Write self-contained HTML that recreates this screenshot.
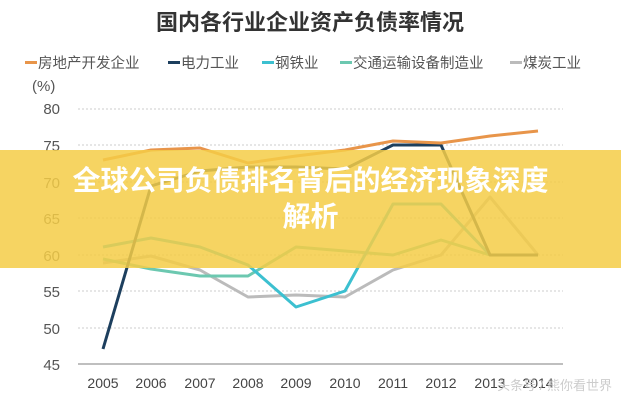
<!DOCTYPE html>
<html><head><meta charset="utf-8"><style>
body{margin:0;width:621px;height:400px;overflow:hidden;background:#fff;font-family:"Liberation Sans","Noto Sans CJK SC",sans-serif;}
</style></head><body>
<svg width="621" height="400" viewBox="0 0 621 400" style="position:absolute;left:0;top:0">
<text x="310" y="30" text-anchor="middle" font-size="22" font-weight="bold" fill="#333" font-family="Liberation Sans,Noto Sans CJK SC,sans-serif">国内各行业企业资产负债率情况</text>
<g font-size="14.5" fill="#555" font-family="Liberation Sans,Noto Sans CJK SC,sans-serif">
<rect x="25" y="61" width="12" height="3" fill="#e8954a"/><text x="38" y="68">房地产开发企业</text>
<rect x="168" y="61" width="12" height="3" fill="#1d3f5e"/><text x="181" y="68">电力工业</text>
<rect x="262" y="61" width="12" height="3" fill="#3cc0d0"/><text x="275" y="68">钢铁业</text>
<rect x="340" y="61" width="12" height="3" fill="#6cc8b0"/><text x="353" y="68">交通运输设备制造业</text>
<rect x="510" y="61" width="12" height="3" fill="#bbb"/><text x="523" y="68">煤炭工业</text>
<text x="32" y="91" font-size="15">(%)</text>
</g>
<g font-size="15" fill="#555" font-family="Liberation Sans,sans-serif" text-anchor="end">
<text x="60" y="114">80</text><text x="60" y="151">75</text><text x="60" y="188">70</text><text x="60" y="224">65</text><text x="60" y="261">60</text><text x="60" y="297">55</text><text x="60" y="334">50</text><text x="60" y="370">45</text>
</g>
<g stroke="#ccc" stroke-dasharray="2,2"><line x1="78" y1="109" x2="563" y2="109"/><line x1="78" y1="145" x2="563" y2="145"/><line x1="78" y1="182" x2="563" y2="182"/><line x1="78" y1="218" x2="563" y2="218"/><line x1="78" y1="255" x2="563" y2="255"/><line x1="78" y1="291" x2="563" y2="291"/><line x1="78" y1="328" x2="563" y2="328"/></g>
<line x1="78" y1="364" x2="563" y2="364" stroke="#aaa" stroke-width="1.5"/>
<g font-size="14" fill="#444" font-family="Liberation Sans,sans-serif" text-anchor="middle">
<text x="103" y="388">2005</text><text x="151" y="388">2006</text><text x="200" y="388">2007</text><text x="248" y="388">2008</text><text x="296" y="388">2009</text><text x="345" y="388">2010</text><text x="393" y="388">2011</text><text x="441" y="388">2012</text><text x="490" y="388">2013</text><text x="538" y="388">2014</text>
</g>
<g fill="none" stroke-width="3" stroke-linejoin="round">
<polyline stroke="#bbb" points="103,263 151,256 200,270 248,297 296,295 345,297 393,270 441,255 490,197 538,255"/>
<polyline stroke="#6cc8b0" points="103,259 151,269 200,276 248,276 296,247 345,251 393,255 441,240 490,255 538,255"/>
<polyline stroke="#3cc0d0" points="103,247 151,238 200,247 248,265 296,307 345,291 393,204 441,204 490,255 538,255"/>
<polyline stroke="#1d3f5e" points="103,349 151,186 200,171 248,167 296,167 345,169 393,145 441,145 490,255 538,255"/>
<polyline stroke="#e8954a" points="103,160 151,150 200,148 248,163 296,156 345,150 393,141 441,143 490,136 538,131"/>
</g>
<text x="612" y="390" text-anchor="end" font-size="13" fill="#ccc" font-family="Liberation Sans,Noto Sans CJK SC,sans-serif">头条号 / 熊你看世界</text>
</svg>
<div style="position:absolute;left:0;top:150px;width:621px;height:118px;background:rgba(245,205,70,0.85);"></div>
<div style="position:absolute;left:0;top:163px;width:621px;text-align:center;color:#fff;font-weight:bold;font-size:28px;line-height:36px;font-family:'Liberation Sans','Noto Sans CJK SC',sans-serif;">全球公司负债排名背后的经济现象深度<br>解析</div>
</body></html>
